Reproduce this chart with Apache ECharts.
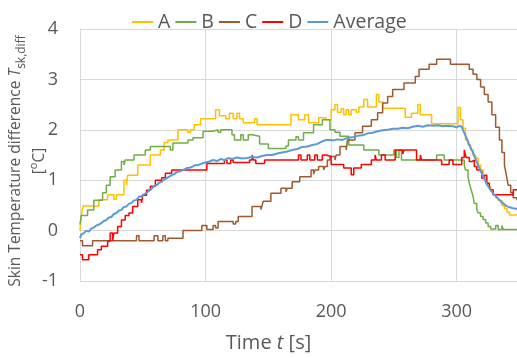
<!DOCTYPE html>
<html>
<head>
<meta charset="utf-8">
<script src="https://cdn.jsdelivr.net/npm/echarts@6/dist/echarts.min.js"></script>
<style>
html,body{margin:0;padding:0;background:#fff;}
#chart{width:517px;height:358px;}
</style>
</head>
<body>
<div id="chart"></div>
<script>
const seriesNames = ['A', 'B', 'C', 'D', 'Average'];
const xTicks = [0, 100, 200, 300];
const yTicks = [-1, 0, 1, 2, 3, 4];

const aT = [0, 1, 2.5, 15, 22, 27, 29, 35, 37, 38, 46, 56, 64, 67, 70, 78, 86, 88, 91, 96, 108, 111, 116, 119, 122, 125, 127, 130, 139, 141, 168, 174, 179, 182, 190, 196, 200, 203, 205, 208, 210, 212, 214, 216, 220, 222, 226, 229, 236, 238, 241, 259, 264, 269, 271, 280, 301, 303, 305, 307, 309, 311, 313, 315, 317, 319, 321, 323, 325, 327, 329, 331, 333, 336, 338, 340, 342, 348];
const aV = [0.0, 0.3, 0.49, 0.61, 0.71, 0.62, 0.71, 1.0, 0.9, 1.1, 1.3, 1.5, 1.6, 1.75, 1.8, 2.0, 1.95, 2.0, 2.1, 2.22, 2.4, 2.28, 2.22, 2.33, 2.22, 2.33, 2.22, 2.14, 2.22, 2.1, 2.3, 2.2, 2.3, 2.14, 2.24, 2.2, 2.4, 2.5, 2.35, 2.42, 2.3, 2.4, 2.3, 2.4, 2.35, 2.45, 2.6, 2.45, 2.7, 2.55, 2.43, 2.25, 2.33, 2.5, 2.3, 2.12, 2.44, 2.2, 2.03, 1.8, 1.7, 1.6, 1.5, 1.44, 1.3, 1.2, 1.07, 0.95, 0.87, 0.78, 0.71, 0.65, 0.6, 0.5, 0.44, 0.37, 0.31, 0.31];

const bT = [0, 1, 6, 11, 18, 21, 24, 28, 33, 35, 36, 43, 52, 56, 72, 74, 86, 90, 98, 106, 110, 112, 121, 123, 128, 130, 134, 137, 143, 150, 164, 166, 172, 174, 178, 186, 193, 199, 203, 207, 214, 226, 238, 250, 252, 254, 256, 284, 290, 306, 307, 309, 310, 311.5, 313, 314, 316, 317, 319, 321, 323, 325, 327, 331, 333, 336, 337, 348];
const bV = [0.12, 0.3, 0.41, 0.6, 0.75, 0.9, 1.07, 1.2, 1.37, 1.3, 1.4, 1.5, 1.6, 1.67, 1.6, 1.74, 1.8, 1.84, 1.97, 2.0, 1.95, 2.0, 1.9, 1.8, 1.9, 1.8, 1.9, 1.87, 1.72, 1.63, 1.68, 1.8, 1.86, 1.8, 1.94, 2.1, 2.2, 2.0, 1.95, 1.87, 1.7, 1.6, 1.5, 1.6, 1.45, 1.6, 1.4, 1.5, 1.4, 1.3, 1.2, 1.07, 0.94, 0.81, 0.68, 0.54, 0.42, 0.35, 0.28, 0.22, 0.15, 0.08, 0.03, 0.1, 0.02, 0.1, 0.02, 0.02];

const cT = [0, 2, 10, 45, 47, 59, 62, 66, 68, 70, 82, 97, 101, 106, 108, 110, 122, 124, 126, 137, 144, 145, 146, 152, 160, 164, 165, 169, 175, 184, 186, 187, 190, 194, 195, 197, 199, 203, 204, 207, 212, 213, 219, 225, 232, 237, 241, 245, 249, 258, 267, 270, 278, 284, 295, 310, 313, 316, 319, 322, 325, 328, 331, 334, 336, 338, 339.5, 341, 343, 345, 348];
const cV = [-0.2, -0.3, -0.2, -0.1, -0.2, -0.1, -0.2, -0.1, -0.2, -0.15, 0.0, 0.1, 0.02, 0.1, 0.05, 0.18, 0.13, 0.18, 0.28, 0.48, 0.42, 0.5, 0.58, 0.74, 0.84, 0.77, 0.84, 0.97, 1.07, 1.2, 1.12, 1.2, 1.27, 1.2, 1.27, 1.4, 1.47, 1.4, 1.5, 1.67, 1.6, 1.8, 1.94, 2.07, 2.2, 2.34, 2.53, 2.66, 2.8, 2.93, 3.06, 3.2, 3.3, 3.4, 3.3, 3.2, 3.1, 3.0, 2.85, 2.7, 2.55, 2.3, 2.05, 1.8, 1.55, 1.3, 1.1, 0.9, 0.75, 0.65, 0.6];

const dT = [0, 2, 7, 14, 17, 22, 24, 26, 27, 30, 33, 36, 39, 42, 46, 49, 50, 53, 56, 60, 65, 68, 73, 101, 115, 117, 120, 122, 135, 137, 138, 140, 147, 174, 176, 181, 183, 187, 189, 193, 196, 200, 210, 216, 218, 224, 232, 235, 236, 240, 243, 251, 257, 258, 268, 271, 272, 288, 294, 297, 304, 306, 307.5, 310, 312, 314, 316, 318, 320, 322, 324, 326, 327, 329, 345, 348];
const dV = [-0.48, -0.58, -0.48, -0.38, -0.31, -0.21, -0.05, -0.2, -0.05, 0.08, 0.21, 0.3, 0.35, 0.48, 0.61, 0.55, 0.7, 0.8, 0.88, 1.0, 1.05, 1.14, 1.2, 1.33, 1.4, 1.33, 1.4, 1.35, 1.4, 1.5, 1.4, 1.33, 1.4, 1.5, 1.4, 1.5, 1.4, 1.5, 1.4, 1.5, 1.47, 1.31, 1.24, 1.11, 1.24, 1.31, 1.4, 1.5, 1.4, 1.5, 1.4, 1.6, 1.52, 1.6, 1.4, 1.5, 1.4, 1.31, 1.4, 1.31, 1.45, 1.6, 1.45, 1.37, 1.4, 1.27, 1.2, 1.17, 1.04, 1.1, 0.94, 0.87, 0.81, 0.71, 0.81, 0.81];

const eT = [0, 1, 3, 5, 7, 9, 11, 13, 15, 17, 19, 21, 23, 25, 27, 29, 31, 33, 35, 37, 39, 41, 43, 45, 47, 49, 51, 53, 55, 57, 59, 61, 63, 65, 67, 69, 71, 73, 75, 77, 79, 82, 85, 88, 91, 94, 97, 100, 103, 106, 109, 112, 115, 118, 121, 125, 129, 133, 137, 141, 145, 149, 153, 157, 161, 165, 169, 173, 177, 181, 185, 189, 193, 196, 199, 202, 205, 209, 213, 217, 221, 225, 229, 233, 237, 241, 245, 249, 253, 257, 261, 265, 269, 273, 277, 281, 285, 289, 293, 297, 300, 302, 304, 306, 308, 310, 312, 314, 316, 318, 320, 322, 324, 326, 328, 330, 332, 335, 338, 340, 344, 348];
const eV = [-0.15, -0.08, -0.05, 0.0, -0.02, 0.04, 0.06, 0.1, 0.12, 0.15, 0.19, 0.21, 0.26, 0.27, 0.33, 0.35, 0.4, 0.41, 0.47, 0.48, 0.53, 0.55, 0.6, 0.61, 0.67, 0.68, 0.72, 0.75, 0.79, 0.83, 0.88, 0.9, 0.95, 0.97, 1.01, 1.04, 1.07, 1.1, 1.12, 1.16, 1.17, 1.2, 1.24, 1.25, 1.29, 1.3, 1.33, 1.35, 1.37, 1.4, 1.38, 1.42, 1.4, 1.44, 1.42, 1.45, 1.43, 1.44, 1.46, 1.45, 1.48, 1.5, 1.5, 1.53, 1.55, 1.57, 1.6, 1.62, 1.66, 1.67, 1.7, 1.72, 1.77, 1.8, 1.8, 1.79, 1.81, 1.8, 1.84, 1.85, 1.88, 1.89, 1.93, 1.94, 1.97, 1.99, 2.0, 2.02, 2.02, 2.04, 2.03, 2.06, 2.08, 2.06, 2.09, 2.08, 2.09, 2.07, 2.08, 2.07, 2.05, 2.08, 2.06, 1.94, 1.83, 1.7, 1.6, 1.48, 1.36, 1.24, 1.13, 1.03, 0.92, 0.84, 0.77, 0.71, 0.66, 0.58, 0.52, 0.48, 0.45, 0.43];

const colors = ['#FFC000', '#70AD47', '#9E5A2E', '#FF0000', '#5B9BD5'];
const zip = (t, v) => t.map((x, i) => [x, v[i]]);
const dataSets = [zip(aT, aV), zip(bT, bV), zip(cT, cV), zip(dT, dV), zip(eT, eV)];

const FONT = 'Open Sans';
const chart = echarts.init(document.getElementById('chart'), null, {renderer: 'canvas'});
chart.setOption({
  animation: false,
  color: colors,
  textStyle: {fontFamily: FONT},
  grid: {left: 80, top: 29, right: 0, bottom: 77, containLabel: false, outerBoundsMode: 'none'},
  legend: {
    data: seriesNames.map(n => ({name: n, icon: 'rect'})),
    left: 127, top: 7,
    itemWidth: 21, itemHeight: 2, itemGap: 5,
    textStyle: {fontFamily: FONT, fontSize: 19.5, color: '#595959'}
  },
  xAxis: {
    type: 'value', min: 0, max: 348, interval: 100,
    axisLine: {show: true, onZero: false, lineStyle: {color: '#d9d9d9', width: 1}},
    axisTick: {show: false},
    splitLine: {show: true, lineStyle: {color: '#d9d9d9', width: 1}},
    axisLabel: {fontFamily: FONT, fontSize: 18, color: '#595959', margin: 22, showMaxLabel: false,
      formatter: v => xTicks.includes(v) ? String(v) : ''},
    name: '{a|Time }{i|t}{a| [s]}',
    nameLocation: 'middle', nameGap: 52, nameMoveOverlap: false,
    nameTextStyle: {padding: [0, 60, 0, 0], rich: {
      a: {fontFamily: FONT, fontSize: 20, color: '#595959'},
      i: {fontFamily: FONT, fontSize: 20, color: '#595959', fontStyle: 'italic'}
    }}
  },
  yAxis: {
    type: 'value', min: -1, max: 4, interval: 1,
    axisLine: {show: true, lineStyle: {color: '#d9d9d9', width: 1}},
    axisTick: {show: false},
    splitLine: {show: true, lineStyle: {color: '#d9d9d9', width: 1}},
    axisLabel: {fontFamily: FONT, fontSize: 18, color: '#595959', margin: 22,
      formatter: v => yTicks.includes(v) ? String(v) : ''},
    name: '{a|Skin Temperature difference }{i|T}{sub|sk,diff}\n{a|[}{sup|o}{a|C]}',
    nameLocation: 'middle', nameRotate: 90, nameGap: 28, nameMoveOverlap: false,
    nameTextStyle: {padding: [0, 12, 0, 0], rich: {
      a: {fontFamily: FONT, fontSize: 15.5, color: '#595959', lineHeight: 24},
      i: {fontFamily: FONT, fontSize: 15.5, color: '#595959', lineHeight: 24, fontStyle: 'italic'},
      sub: {fontFamily: FONT, fontSize: 12, color: '#595959', lineHeight: 14, verticalAlign: 'bottom'},
      sup: {fontFamily: FONT, fontSize: 11, color: '#595959', lineHeight: 13, verticalAlign: 'top'}
    }}
  },
  series: seriesNames.map((n, i) => ({
    name: n, type: 'line', data: dataSets[i], symbol: 'none',
    step: i < 4 ? 'end' : false,
    lineStyle: {width: i === 4 ? 2 : 1.5, color: colors[i]},
    itemStyle: {color: colors[i]},
    z: 2 + i
  }))
});
</script>
</body>
</html>
